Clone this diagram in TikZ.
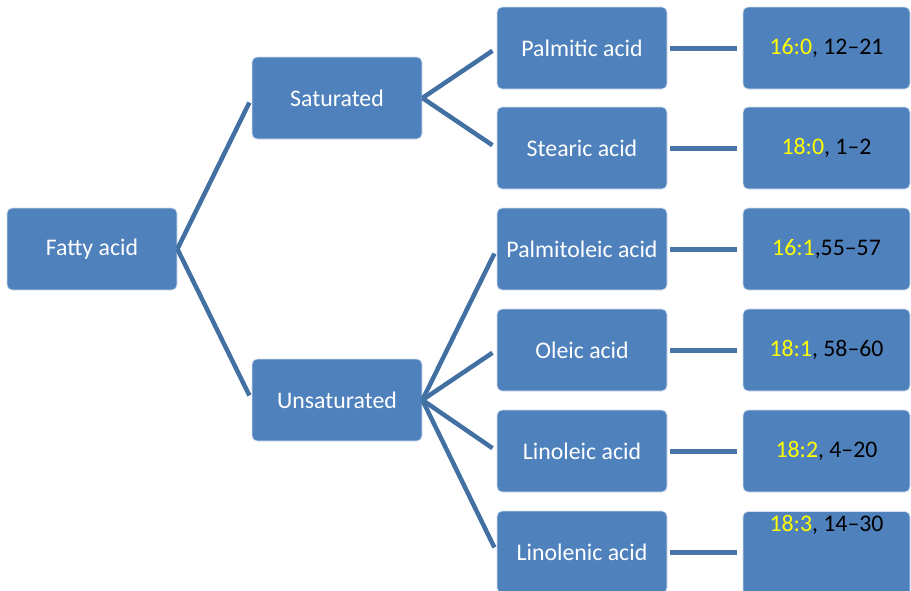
\documentclass[tikz,border=0pt]{standalone}
\usepackage{fontspec}
\setmainfont{Carlito}
\definecolor{boxfill}{RGB}{79,129,189}
\definecolor{linecol}{RGB}{66,112,163}
\definecolor{hlinecol}{RGB}{72,116,168}
\definecolor{yel}{RGB}{255,255,0}
\begin{document}
\begin{tikzpicture}[x=1pt,y=-1pt,
  box/.style={draw=white!75!boxfill, line width=0.8pt, fill=boxfill, rounded corners=5pt,
    minimum width=170pt, minimum height=82pt, inner sep=0pt, text=white,
    font=\fontsize{23.8}{28}\selectfont},
  vbox/.style={box, minimum width=167pt, text=black},
  diag/.style={draw=linecol, line width=4.5pt, shorten >=5pt},
  hline/.style={draw=hlinecol, line width=5pt, shorten <=3pt, shorten >=6pt}]
\useasboundingbox (0,0) rectangle (911,590);
\clip (0,0) rectangle (911,590);
\node[box] (fa) at (92,249) {Fatty acid};
\node[box] (sat) at (337,98) {Saturated};
\node[box] (uns) at (337,400) {Unsaturated};
\node[box] (palm) at (582,48) {Palmitic acid};
\node[box] (ste) at (582,148) {Stearic acid};
\node[box] (pmo) at (582,249) {Palmitoleic acid};
\node[box] (ole) at (582,350) {Oleic acid};
\node[box] (lino) at (582,451) {Linoleic acid};
\node[box] (lnn) at (582,552) {Linolenic acid};
\node[vbox] (r1) at (826.5,48) {\textcolor{yel}{16:0}, 12–21};
\node[vbox] (r2) at (826.5,148) {\textcolor{yel}{18:0}, 1–2};
\node[vbox] (r3) at (826.5,249) {\textcolor{yel}{16:1},55–57};
\node[vbox] (r4) at (826.5,350) {\textcolor{yel}{18:1}, 58–60};
\node[vbox] (r5) at (826.5,451) {\textcolor{yel}{18:2}, 4–20};
\node[vbox, minimum height=100pt, anchor=north] (r6) at (826.5,511) {};
\node[anchor=north, inner sep=0pt, font=\fontsize{23.8}{28}\selectfont] (r6t) at ([yshift=-4pt]r6.north) {\textcolor{yel}{18:3}, 14–30};
\draw[diag] (fa.east) -- (sat.west);
\draw[diag] (fa.east) -- (uns.west);
\draw[diag] (sat.east) -- (palm.west);
\draw[diag] (sat.east) -- (ste.west);
\draw[diag] (uns.east) -- (pmo.west);
\draw[diag] (uns.east) -- (ole.west);
\draw[diag] (uns.east) -- (lino.west);
\draw[diag] (uns.east) -- (lnn.west);
\draw[hline] (palm.east) -- (r1.west);
\draw[hline] (ste.east) -- (r2.west);
\draw[hline] (pmo.east) -- (r3.west);
\draw[hline] (ole.east) -- (r4.west);
\draw[hline] (lino.east) -- (r5.west);
\draw[hline] (lnn.east) -- (r6.west |- lnn.east);
\end{tikzpicture}
\end{document}
